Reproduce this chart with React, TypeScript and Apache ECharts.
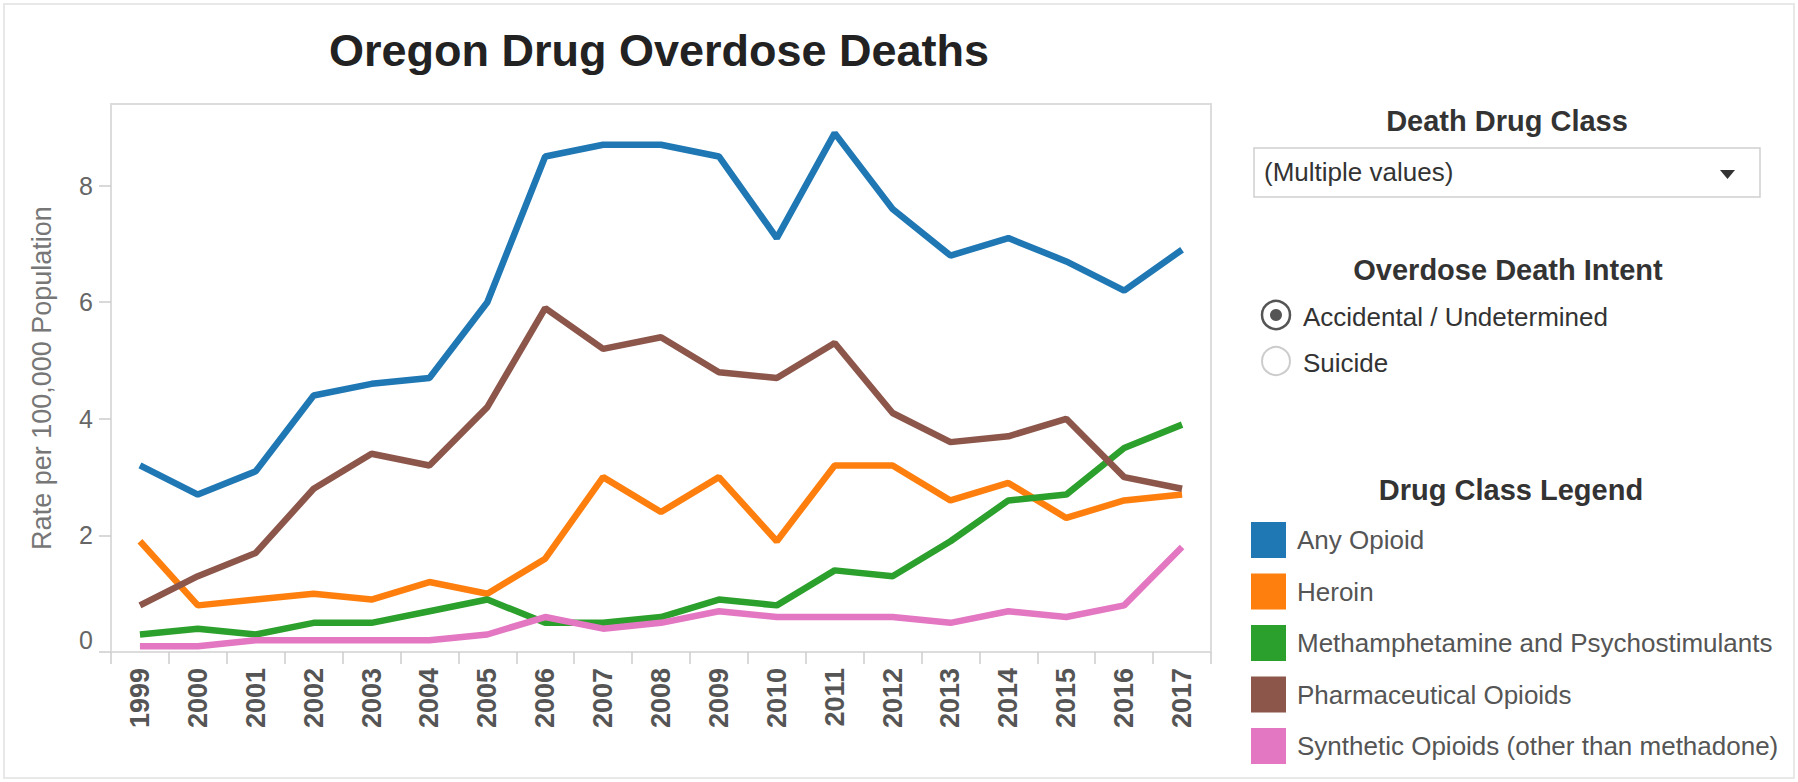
import React, { useEffect, useRef } from "react";
import * as echarts from "echarts";

const years = ["1999","2000","2001","2002","2003","2004","2005","2006","2007","2008","2009","2010","2011","2012","2013","2014","2015","2016","2017"];

const anyOpioid = [3.2, 2.7, 3.1, 4.4, 4.6, 4.7, 6.0, 8.5, 8.7, 8.7, 8.5, 7.1, 8.9, 7.6, 6.8, 7.1, 6.7, 6.2, 6.9];
const heroin = [1.9, 0.8, 0.9, 1.0, 0.9, 1.2, 1.0, 1.6, 3.0, 2.4, 3.0, 1.9, 3.2, 3.2, 2.6, 2.9, 2.3, 2.6, 2.7];
const meth = [0.3, 0.4, 0.3, 0.5, 0.5, 0.7, 0.9, 0.5, 0.5, 0.6, 0.9, 0.8, 1.4, 1.3, 1.9, 2.6, 2.7, 3.5, 3.9];
const pharma = [0.8, 1.3, 1.7, 2.8, 3.4, 3.2, 4.2, 5.9, 5.2, 5.4, 4.8, 4.7, 5.3, 4.1, 3.6, 3.7, 4.0, 3.0, 2.8];
const synthetic = [0.1, 0.1, 0.2, 0.2, 0.2, 0.2, 0.3, 0.6, 0.4, 0.5, 0.7, 0.6, 0.6, 0.6, 0.5, 0.7, 0.6, 0.8, 1.8];

const seriesNames = [
  "Any Opioid",
  "Heroin",
  "Methamphetamine and Psychostimulants",
  "Pharmaceutical Opioids",
  "Synthetic Opioids (other than methadone)",
];
const seriesValues = [anyOpioid, heroin, meth, pharma, synthetic];
const seriesColors = ["#1f77b4", "#ff7f0e", "#2ca02c", "#8c564b", "#e377c2"];

const yTicks = [0, 2, 4, 6, 8];

const FONT = '"Liberation Sans", Arial, sans-serif';

export default function App() {
  const ref = useRef<HTMLDivElement>(null);

  useEffect(() => {
    document.body.style.margin = "0";
    if (!ref.current) return;
    const chart = echarts.init(ref.current, null, { renderer: "svg" });

    const option: any = {
      animation: false,
      backgroundColor: "#ffffff",
      textStyle: { fontFamily: FONT },
      grid: {
        left: 111,
        right: 587,
        top: 104,
        bottom: 130,
        show: true,
        borderColor: "#dcdcdc",
        borderWidth: 2,
        backgroundColor: "transparent",
      },
      legend: {
        orient: "vertical",
        left: 1246,
        top: 517,
        icon: "rect",
        itemWidth: 35,
        itemHeight: 36,
        itemGap: 15.5,
        selectedMode: false,
        data: seriesNames,
        textStyle: { fontFamily: FONT, fontSize: 26, color: "#555", padding: [0, 0, 0, 6] },
      },
      xAxis: {
        type: "category",
        data: years,
        boundaryGap: true,
        axisLine: { show: true, lineStyle: { color: "#dcdcdc", width: 2 } },
        axisTick: { show: true, length: 12, interval: 0, lineStyle: { color: "#cccccc", width: 1.5 } },
        axisLabel: {
          rotate: 90,
          interval: 0,
          margin: 16,
          fontFamily: FONT,
          fontSize: 27,
          fontWeight: "bold",
          color: "#555",
        },
        splitLine: { show: false },
      },
      yAxis: {
        type: "value",
        min: 0,
        max: 9.4,
        interval: 2,
        name: "Rate per 100,000 Population",
        nameLocation: "middle",
        nameGap: 56,
        nameTextStyle: { fontFamily: FONT, fontSize: 27, color: "#777" },
        axisLine: { show: false },
        axisTick: { show: true, length: 12, customValues: yTicks, lineStyle: { color: "#cccccc", width: 1.5 } },
        axisLabel: {
          customValues: yTicks,
          margin: 18,
          fontFamily: FONT,
          fontSize: 25,
          color: "#666",
          formatter: (v: number) => (v === 0 ? "{z|0}" : String(v)),
          rich: { z: { fontFamily: FONT, fontSize: 25, color: "#666", padding: [0, 0, 24, 0] } },
        },
        splitLine: { show: false },
      },
      series: seriesNames.map((name, i) => ({
        name,
        type: "line",
        data: seriesValues[i],
        symbol: "none",
        color: seriesColors[i],
        itemStyle: { color: seriesColors[i] },
        lineStyle: { color: seriesColors[i], width: 6.5 },
        emphasis: { disabled: true },
      })),
      graphic: [
        {
          type: "rect",
          shape: { x: 4, y: 4, width: 1790, height: 774 },
          style: { fill: "none", stroke: "#e8e8e8", lineWidth: 2 },
          silent: true,
        },
        {
          type: "text",
          x: 659,
          y: 50,
          style: {
            text: "Oregon Drug Overdose Deaths",
            fontFamily: FONT,
            fontSize: 45,
            fontWeight: "bold",
            fill: "#222",
            textAlign: "center",
            textVerticalAlign: "middle",
          },
        },
        {
          type: "text",
          x: 1507,
          y: 121,
          style: {
            text: "Death Drug Class",
            fontFamily: FONT,
            fontSize: 29,
            fontWeight: "bold",
            fill: "#333",
            textAlign: "center",
            textVerticalAlign: "middle",
          },
        },
        {
          type: "rect",
          shape: { x: 1254, y: 148, width: 506, height: 49 },
          style: { fill: "#fff", stroke: "#cfcfcf", lineWidth: 1.5 },
        },
        {
          type: "text",
          x: 1264,
          y: 172,
          style: {
            text: "(Multiple values)",
            fontFamily: FONT,
            fontSize: 26,
            fill: "#333",
            textAlign: "left",
            textVerticalAlign: "middle",
          },
        },
        {
          type: "polygon",
          shape: { points: [[1720, 170], [1735, 170], [1727.5, 179]] },
          style: { fill: "#333" },
        },
        {
          type: "text",
          x: 1508,
          y: 270,
          style: {
            text: "Overdose Death Intent",
            fontFamily: FONT,
            fontSize: 29,
            fontWeight: "bold",
            fill: "#333",
            textAlign: "center",
            textVerticalAlign: "middle",
          },
        },
        {
          type: "circle",
          shape: { cx: 1276, cy: 315, r: 14 },
          style: { fill: "#fff", stroke: "#555", lineWidth: 2.5 },
        },
        {
          type: "circle",
          shape: { cx: 1276, cy: 315, r: 6 },
          style: { fill: "#555" },
        },
        {
          type: "text",
          x: 1303,
          y: 317,
          style: {
            text: "Accidental / Undetermined",
            fontFamily: FONT,
            fontSize: 26,
            fill: "#333",
            textAlign: "left",
            textVerticalAlign: "middle",
          },
        },
        {
          type: "circle",
          shape: { cx: 1276, cy: 361, r: 14 },
          style: { fill: "#fff", stroke: "#cccccc", lineWidth: 2 },
        },
        {
          type: "text",
          x: 1303,
          y: 363,
          style: {
            text: "Suicide",
            fontFamily: FONT,
            fontSize: 26,
            fill: "#333",
            textAlign: "left",
            textVerticalAlign: "middle",
          },
        },
        {
          type: "text",
          x: 1511,
          y: 490,
          style: {
            text: "Drug Class Legend",
            fontFamily: FONT,
            fontSize: 29,
            fontWeight: "bold",
            fill: "#333",
            textAlign: "center",
            textVerticalAlign: "middle",
          },
        },
      ],
    };

    chart.setOption(option);
    return () => {
      chart.dispose();
    };
  }, []);

  return <div ref={ref} style={{ width: 1798, height: 782 }} />;
}
